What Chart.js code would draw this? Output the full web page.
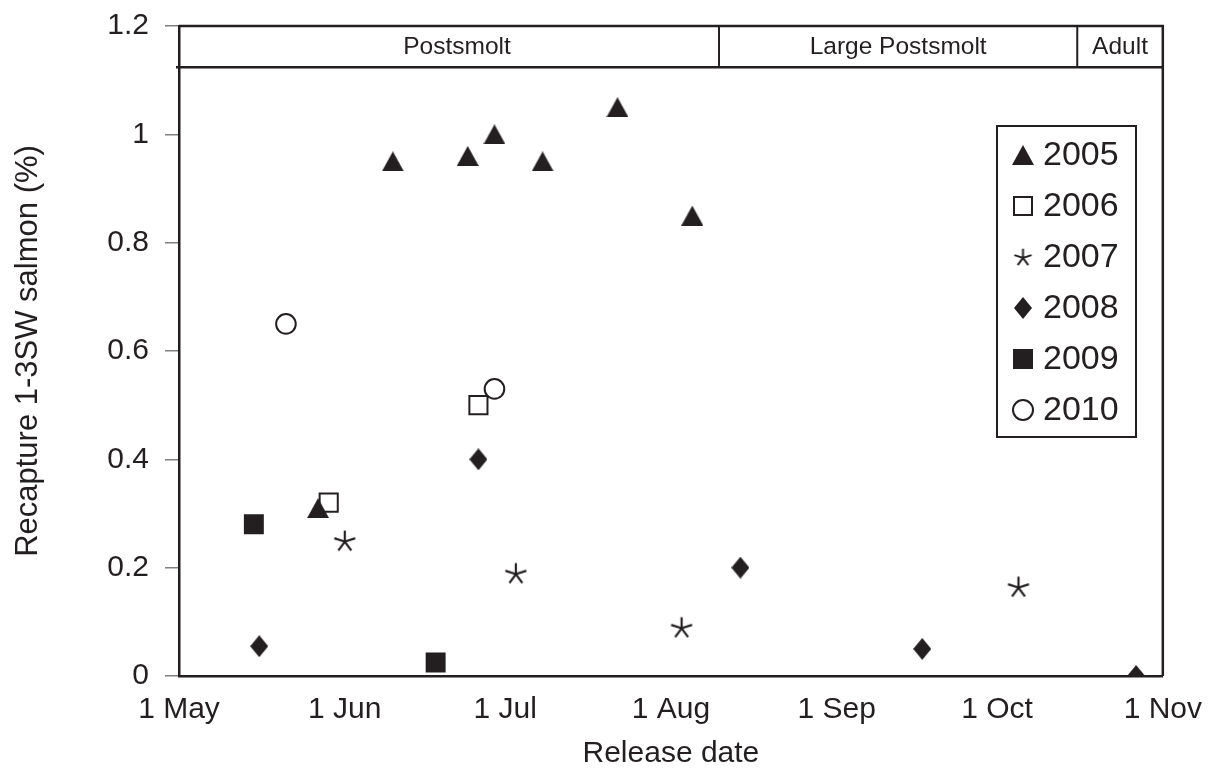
<!DOCTYPE html>
<html>
<head>
<meta charset="utf-8">
<script src="https://cdn.jsdelivr.net/npm/chart.js@4/dist/chart.umd.min.js"></script>
<style>
  html, body { margin: 0; padding: 0; background: #ffffff; }
  #wrap { width: 1210px; height: 778px; }
  canvas { display: block; }
</style>
</head>
<body>
<div id="wrap"><canvas id="c" width="1210" height="778" style="width:1210px;height:778px"></canvas></div>
<script>
// ---- axis definitions (x = days after 1 May) ----
const monthDays = [0, 31, 61, 92, 123, 153, 184];
const monthLabels = ['1 May', '1 Jun', '1 Jul', '1 Aug', '1 Sep', '1 Oct', '1 Nov'];
const yTicks = [0, 0.2, 0.4, 0.6, 0.8, 1, 1.2];
const yTickLabels = ['0', '0.2', '0.4', '0.6', '0.8', '1', '1.2'];

// ---- series (release day after 1 May, recapture %) ----
const years = ['2005', '2006', '2007', '2008', '2009', '2010'];
const days2005 = [26, 40, 54, 59, 68, 82, 96];
const recap2005 = [0.31, 0.95, 0.96, 1.00, 0.95, 1.05, 0.85];
const days2006 = [28, 56];
const recap2006 = [0.32, 0.50];
const days2007 = [31, 63, 94, 157];
const recap2007 = [0.25, 0.19, 0.09, 0.165];
const days2008 = [15, 56, 105, 139, 179];
const recap2008 = [0.055, 0.40, 0.20, 0.05, 0.0];
const days2009 = [14, 48];
const recap2009 = [0.28, 0.025];
const days2010 = [20, 59];
const recap2010 = [0.65, 0.53];

// ---- life-stage band ----
const phaseLabels = ['Postsmolt', 'Large Postsmolt', 'Adult'];
const phaseBounds = [0, 101, 168, 184];
const phaseLabelDays = [52, 134.5, 176];
const phaseBandFrom = 1.124;

const INK = '#231f20';
const FONT = '"Liberation Sans", Arial, Helvetica, sans-serif';

function makeMarker(w, h, draw) {
  const c = document.createElement('canvas');
  c.width = w; c.height = h;
  const g = c.getContext('2d');
  g.fillStyle = INK; g.strokeStyle = INK;
  draw(g, w, h);
  return c;
}
const triangleImg = makeMarker(22, 20, (g, w, h) => {
  g.beginPath(); g.moveTo(w / 2, 0); g.lineTo(w, h); g.lineTo(0, h); g.closePath(); g.fill();
});
const diamondImg = makeMarker(18, 22, (g, w, h) => {
  g.beginPath(); g.moveTo(w / 2, 0); g.lineTo(w, h / 2); g.lineTo(w / 2, h); g.lineTo(0, h / 2); g.closePath(); g.fill();
});
function asterisk(R, lw) {
  const w = Math.ceil(2 * R * Math.cos(18 * Math.PI / 180)) + 3;
  const h = Math.ceil(R + R * Math.sin(54 * Math.PI / 180)) + 3;
  return makeMarker(w, h, (g) => {
    g.lineWidth = lw; g.lineCap = 'butt';
    const cx = w / 2;
    const cy = h / 2 + (R - R * Math.sin(54 * Math.PI / 180)) / 2;
    g.beginPath();
    [-90, -18, 54, 126, 198].forEach(a => {
      const r = a * Math.PI / 180;
      g.moveTo(cx, cy); g.lineTo(cx + R * Math.cos(r), cy + R * Math.sin(r));
    });
    g.stroke();
  });
}
const asteriskImg = asterisk(11, 2.2);
const asteriskLegendImg = asterisk(9, 2);

const datasets = [
  { label: years[0], data: days2005.map((d, i) => ({ x: d, y: recap2005[i] })),
    pointStyle: triangleImg, pointRadius: 11, backgroundColor: INK, borderColor: INK, legendImg: triangleImg },
  { label: years[1], data: days2006.map((d, i) => ({ x: d, y: recap2006[i] })),
    pointStyle: 'rect', pointRadius: 12.8, borderWidth: 2, backgroundColor: '#ffffff', borderColor: INK },
  { label: years[2], data: days2007.map((d, i) => ({ x: d, y: recap2007[i] })),
    pointStyle: asteriskImg, pointRadius: 11, backgroundColor: INK, borderColor: INK, legendImg: asteriskLegendImg },
  { label: years[3], data: days2008.map((d, i) => ({ x: d, y: recap2008[i] })),
    pointStyle: diamondImg, pointRadius: 11, backgroundColor: INK, borderColor: INK, legendImg: diamondImg },
  { label: years[4], data: days2009.map((d, i) => ({ x: d, y: recap2009[i] })),
    pointStyle: 'rect', pointRadius: 14.1, borderWidth: 0, backgroundColor: INK, borderColor: INK },
  { label: years[5], data: days2010.map((d, i) => ({ x: d, y: recap2010[i] })),
    pointStyle: 'circle', pointRadius: 9.8, borderWidth: 2, backgroundColor: '#ffffff', borderColor: INK }
];
datasets.forEach(d => { d.pointHoverRadius = d.pointRadius; d.showLine = false; });

function drawLegendMarker(ctx, ds, x, y) {
  ctx.save();
  if (ds.legendImg) {
    const im = ds.legendImg;
    ctx.drawImage(im, x - im.width / 2, y - im.height / 2);
  } else if (ds.pointStyle === 'rect') {
    const s = 20 - (ds.borderWidth || 0);
    if (ds.borderWidth) {
      ctx.fillStyle = ds.backgroundColor; ctx.strokeStyle = ds.borderColor; ctx.lineWidth = ds.borderWidth;
      ctx.fillRect(x - s / 2, y - s / 2, s, s); ctx.strokeRect(x - s / 2, y - s / 2, s, s);
    } else {
      ctx.fillStyle = ds.backgroundColor; ctx.fillRect(x - 10, y - 10, 20, 20);
    }
  } else if (ds.pointStyle === 'circle') {
    ctx.beginPath(); ctx.arc(x, y, 10, 0, Math.PI * 2);
    ctx.fillStyle = ds.backgroundColor; ctx.fill();
    ctx.strokeStyle = ds.borderColor; ctx.lineWidth = ds.borderWidth; ctx.stroke();
  }
  ctx.restore();
}

const bandPlugin = {
  id: 'lifeStageBand',
  beforeDatasetsDraw(chart) {
    const { ctx, chartArea: { left, right, top, bottom } } = chart;
    const xs = chart.scales.x, ys = chart.scales.y;
    const yb = ys.getPixelForValue(phaseBandFrom);
    ctx.save();
    ctx.strokeStyle = INK; ctx.lineWidth = 2.5;
    ctx.beginPath();
    ctx.moveTo(left, top); ctx.lineTo(right, top); ctx.lineTo(right, bottom);
    ctx.stroke();
    ctx.beginPath(); ctx.moveTo(left - 3, yb); ctx.lineTo(right, yb); ctx.stroke();
    ctx.lineWidth = 2;
    for (let i = 1; i < phaseBounds.length - 1; i++) {
      const px = xs.getPixelForValue(phaseBounds[i]);
      ctx.beginPath(); ctx.moveTo(px, top); ctx.lineTo(px, yb); ctx.stroke();
    }
    ctx.fillStyle = INK;
    ctx.font = '24.5px ' + FONT;
    ctx.textAlign = 'center'; ctx.textBaseline = 'middle';
    for (let i = 0; i < phaseLabels.length; i++) {
      ctx.fillText(phaseLabels[i], xs.getPixelForValue(phaseLabelDays[i]), (top + yb) / 2 + 1);
    }
    ctx.restore();
  },
  afterDatasetsDraw(chart) {
    const { ctx } = chart;
    const bx = 997, by = 126, bw = 139, bh = 311;
    ctx.save();
    ctx.fillStyle = '#ffffff'; ctx.fillRect(bx, by, bw, bh);
    ctx.strokeStyle = INK; ctx.lineWidth = 2; ctx.strokeRect(bx, by, bw, bh);
    ctx.font = '34px ' + FONT; ctx.fillStyle = INK;
    ctx.textAlign = 'left'; ctx.textBaseline = 'middle';
    chart.data.datasets.forEach((ds, i) => {
      const y = 155 + i * 51;
      drawLegendMarker(ctx, ds, 1023, y);
      ctx.fillText(ds.label, 1043, y + 1);
    });
    ctx.restore();
  }
};

Chart.defaults.font.family = FONT;
Chart.defaults.color = INK;

new Chart(document.getElementById('c'), {
  type: 'scatter',
  data: { datasets },
  plugins: [bandPlugin],
  options: {
    responsive: false,
    devicePixelRatio: 1,
    animation: false,
    events: [],
    layout: { padding: { top: 26, right: 39, left: 0, bottom: 0 } },
    plugins: { legend: { display: false }, tooltip: { enabled: false } },
    scales: {
      x: {
        type: 'linear', position: 'bottom', min: 0, max: 184,
        afterBuildTicks: (s) => { s.ticks = monthDays.map(v => ({ value: v })); },
        afterFit: (s) => { s.height = 102; },
        ticks: {
          autoSkip: false, maxRotation: 0, padding: 8,
          font: { size: 30 }, color: INK,
          callback: (v) => { const i = monthDays.indexOf(v); return i >= 0 ? monthLabels[i] : ''; }
        },
        grid: { display: false },
        border: { display: true, color: INK, width: 2.5 },
        title: { display: true, text: 'Release date', font: { size: 30 }, color: INK, padding: { top: 0, bottom: 6 } }
      },
      y: {
        type: 'linear', position: 'left', min: 0, max: 1.2,
        afterBuildTicks: (s) => { s.ticks = yTicks.map(v => ({ value: v })); },
        afterFit: (s) => { s.width = 179; s.paddingTop = 0; s.paddingBottom = 0; },
        ticks: {
          padding: 16, font: { size: 30 }, color: INK,
          callback: (v) => { const i = yTicks.findIndex(t => Math.abs(t - v) < 1e-6); return i >= 0 ? yTickLabels[i] : ''; }
        },
        grid: { drawOnChartArea: false, drawTicks: true, tickLength: 14, color: '#808080', lineWidth: 1.5 },
        border: { display: true, color: INK, width: 2.5 },
        title: { display: true, text: 'Recapture 1-3SW salmon (%)', font: { size: 31 }, color: INK, padding: { top: 10, bottom: 0 } }
      }
    }
  }
});
</script>
</body>
</html>
